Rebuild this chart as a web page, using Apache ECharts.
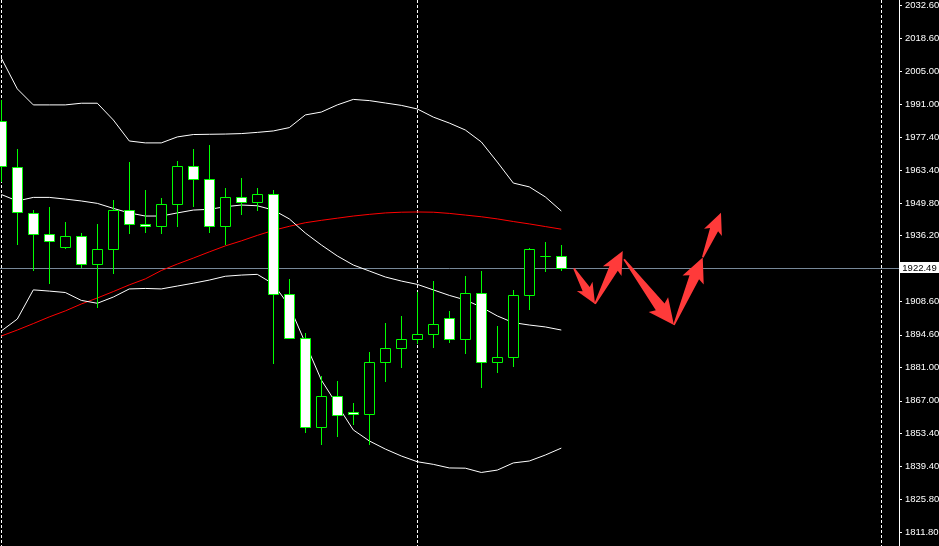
<!DOCTYPE html>
<html><head><meta charset="utf-8">
<script src="https://cdn.jsdelivr.net/npm/echarts@6/dist/echarts.min.js"></script>
<style>html,body{margin:0;padding:0;background:#000;}#c{width:939px;height:546px;}</style>
</head><body><div id="c"></div>
<script>
// ---- data (bar index 0..35) ----
const opens  = [1984.2,1964.9,1945.7,1936.6,1931.2,1935.8,1924.2,1930.4,1946.7,1940.8,1940.0,1949.2,1965.1,1959.7,1940.0,1952.1,1950.0,1953.4,1911.5,1893.1,1855.9,1868.9,1862.2,1861.3,1883.1,1889.0,1892.7,1894.8,1901.5,1892.7,1912.0,1883.1,1885.2,1911.1,1927.4,1927.4];
const highs  = [1992.9,1972.2,1946.8,1948.2,1941.8,1937.1,1941.0,1951.0,1966.9,1955.2,1951.9,1967.3,1972.2,1974.0,1956.0,1960.2,1956.0,1955.2,1918.0,1895.2,1877.2,1875.3,1866.0,1887.4,1899.4,1902.5,1912.4,1917.1,1904.6,1919.2,1921.3,1898.3,1913.4,1930.8,1933.4,1932.2];
const lows   = [1959.1,1932.6,1921.7,1916.4,1931.0,1923.1,1906.4,1920.3,1937.3,1937.7,1937.3,1940.3,1948.6,1937.7,1932.7,1945.3,1946.7,1882.7,1893.1,1853.8,1848.8,1852.4,1857.4,1848.8,1875.4,1881.3,1891.3,1889.6,1891.7,1887.1,1872.9,1879.2,1881.7,1905.5,1921.4,1921.9];
const closes = [1965.2,1946.0,1936.7,1933.7,1935.8,1924.2,1930.4,1946.7,1940.8,1940.0,1949.2,1965.1,1959.7,1940.0,1952.1,1950.0,1953.4,1911.5,1893.1,1855.9,1868.9,1860.9,1861.3,1883.1,1889.0,1892.7,1894.8,1899.0,1892.7,1912.0,1883.1,1885.2,1911.1,1930.4,1927.4,1922.49];

const bbUpper  = [2010.4,1997.5,1990.8,1990.8,1990.8,1991.5,1991.5,1984.5,1975.7,1974.9,1974.9,1977.4,1978.4,1978.5,1978.6,1978.8,1979.3,1979.9,1981.3,1986.6,1987.8,1990.8,1993.1,1992.6,1991.6,1990.6,1989.1,1985.7,1983.2,1980.3,1975.3,1966.9,1958.1,1956.5,1952.3,1946.4];
const bbMiddle = [1953.3,1950.6,1952.1,1952.1,1951.4,1950.6,1949.6,1947.5,1945.6,1944.3,1944.3,1945.6,1946.8,1947.1,1948.2,1948.9,1948.6,1946.8,1943.1,1937.2,1932.2,1927.6,1923.8,1921.3,1918.8,1917.1,1915.7,1913.4,1911.1,1909.2,1906.2,1902.5,1899.7,1898.7,1897.9,1896.6];
const bbLower  = [1896.2,1901.2,1913.4,1912.9,1912.3,1909.0,1907.8,1910.4,1913.8,1914.0,1913.8,1915.0,1916.2,1917.5,1919.1,1919.6,1919.9,1915.9,1906.7,1891.2,1875.7,1865.2,1854.8,1850.2,1846.8,1843.9,1841.5,1840.4,1838.9,1838.8,1837.0,1838.0,1841.0,1841.8,1844.3,1847.2];
const maRed    = [1894.1,1896.6,1899.3,1902.1,1904.6,1907.5,1910.0,1912.7,1915.5,1918.0,1921.5,1924.2,1926.7,1929.3,1931.8,1933.9,1936.2,1938.3,1940.0,1941.5,1942.5,1943.4,1944.3,1945.0,1945.6,1945.9,1946.0,1945.9,1945.4,1944.7,1944.0,1943.1,1942.0,1941.0,1939.9,1938.8];

const priceTicks = [2032.60,2018.60,2005.00,1991.00,1977.40,1963.40,1949.80,1936.20,1908.60,1894.60,1881.00,1867.00,1853.40,1839.40,1825.80,1811.80];
const lastPrice = 1922.49;
const separators = [0, 26, 55];
// forecast arrows: [fromIndex, fromPrice, toIndex, toPrice]
const arrows = [
  [35.79,1922.4, 37.11,1907.5],
  [37.11,1907.5, 38.84,1929.7],
  [38.92,1926.2, 42.04,1898.7],
  [42.04,1898.7, 43.84,1927.0],
  [43.84,1927.0, 44.98,1945.7]
];

// ---- layout constants ----
const X_MIN = -0.08125, X_MAX = 56.106;
const Y_MIN = 1806.24, Y_MAX = 2034.69;
const FONT = 'Liberation Sans';

const candleData = opens.map((o,i)=>[i,o,highs[i],lows[i],closes[i]]);
const toXY = arr => arr.map((v,i)=>[i,v]);

function renderCandle(params, api){
  const k = api.value(0), o = api.value(1), h = api.value(2), l = api.value(3), c = api.value(4);
  const pO = api.coord([k,o]), pC = api.coord([k,c]), pH = api.coord([k,h]), pL = api.coord([k,l]);
  const cx = Math.round(pO[0]);
  const x = cx + 0.5;
  const top = Math.round(Math.min(pO[1],pC[1])) + 0.5;
  const bot = Math.round(Math.max(pO[1],pC[1])) + 0.5;
  const bear = c < o;
  return {type:'group', children:[
    {type:'line', shape:{x1:x,y1:Math.round(pH[1]),x2:x,y2:Math.round(pL[1])+1}, style:{stroke:'#00ff00',lineWidth:1}},
    {type:'rect', shape:{x:cx-5+0.5,y:top,width:10,height:bot-top}, style:{fill:bear?'#ffffff':'#000000',stroke:'#00ff00',lineWidth:1}}
  ]};
}

function renderSeparator(params, api){
  const p = api.coord([api.value(0), Y_MIN]);
  const cs = params.coordSys;
  const x = Math.round(p[0]) + 0.5;
  return {type:'line', shape:{x1:x,y1:cs.y,x2:x,y2:cs.y+cs.height}, style:{stroke:'#ffffff',lineWidth:1,lineDash:[3,2]}};
}

function renderPrice(params, api){
  const p = api.coord([0, api.value(1)]);
  const cs = params.coordSys;
  const y = Math.round(p[1]) + 0.5;
  return {type:'group', children:[
    {type:'line', shape:{x1:cs.x,y1:y,x2:cs.x+cs.width,y2:y}, style:{stroke:'#778899',lineWidth:1}},
    {type:'rect', shape:{x:cs.x+cs.width+1,y:Math.round(p[1])-6,width:39,height:11}, style:{fill:'#ffffff'}},
    {type:'text', style:{text:api.value(1).toFixed(2), x:cs.x+cs.width+20.5, y:Math.round(p[1])+0.5, fill:'#000000', fontSize:9.5, fontFamily:FONT, align:'center', verticalAlign:'middle'}}
  ]};
}

function renderArrow(params, api){
  const p1 = api.coord([api.value(0), api.value(1)]);
  const p2 = api.coord([api.value(2), api.value(3)]);
  const dx = p2[0]-p1[0], dy = p2[1]-p1[1];
  const L = Math.hypot(dx,dy);
  const ux = dx/L, uy = dy/L, nx = -uy, ny = ux;
  const headLen = 12 + 0.13*L, headHalf = 6 + 0.075*L, neckHalf = headHalf*0.45;
  const bx = p2[0]-ux*headLen, by = p2[1]-uy*headLen;
  const sw = 3;
  const pts = [
    [p1[0]+nx*0.8, p1[1]+ny*0.8],
    [bx+nx*neckHalf, by+ny*neckHalf],
    [bx-ux*sw+nx*headHalf, by-uy*sw+ny*headHalf],
    [p2[0],p2[1]],
    [bx-ux*sw-nx*headHalf, by-uy*sw-ny*headHalf],
    [bx-nx*neckHalf, by-ny*neckHalf],
    [p1[0]-nx*0.8, p1[1]-ny*0.8]
  ];
  return {type:'polygon', shape:{points:pts}, style:{fill:'#ff3a3a'}};
}

const lineCommon = {type:'line', showSymbol:false, symbol:'none', silent:true, animation:false};

const chart = echarts.init(document.getElementById('c'), null, {renderer:'canvas'});
chart.setOption({
  backgroundColor:'#000000',
  animation:false,
  grid:{left:0, right:40, top:0, bottom:0, containLabel:false, outerBoundsMode:'none'},
  xAxis:{type:'value', min:X_MIN, max:X_MAX, show:false},
  yAxis:{
    type:'value', position:'right', min:Y_MIN, max:Y_MAX,
    axisLine:{show:true, onZero:false, lineStyle:{color:'#ffffff', width:1}},
    axisTick:{show:true, length:3, lineStyle:{color:'#ffffff'}, customValues:priceTicks},
    axisLabel:{show:true, color:'#ffffff', fontSize:9.5, fontFamily:FONT, margin:6, customValues:priceTicks, formatter:v=>v.toFixed(2)},
    splitLine:{show:false}
  },
  series:[
    {type:'custom', renderItem:renderSeparator, data:separators.map(k=>[k]), z:1, silent:true},
    {type:'custom', renderItem:renderPrice, data:[[0,lastPrice]], z:2, silent:true, clip:false},
    Object.assign({data:toXY(maRed), lineStyle:{color:'#ff0000',width:1}, z:3}, lineCommon),
    Object.assign({data:toXY(bbUpper), lineStyle:{color:'#ffffff',width:1}, z:3}, lineCommon),
    Object.assign({data:toXY(bbMiddle), lineStyle:{color:'#ffffff',width:1}, z:3}, lineCommon),
    Object.assign({data:toXY(bbLower), lineStyle:{color:'#ffffff',width:1}, z:3}, lineCommon),
    {type:'custom', renderItem:renderCandle, data:candleData, z:4, silent:true, clip:true},
    {type:'custom', renderItem:renderArrow, data:arrows, z:5, silent:true}
  ]
});
</script>
</body></html>
